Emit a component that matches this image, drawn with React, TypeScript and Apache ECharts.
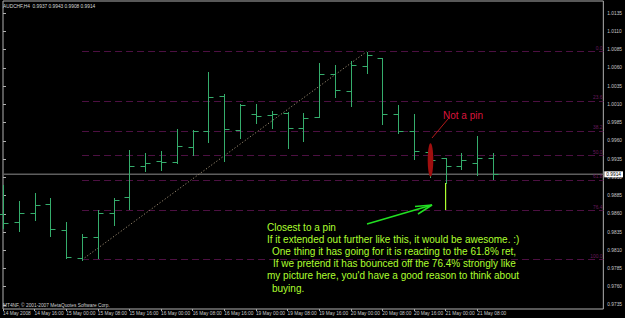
import React, { useEffect, useRef } from "react";
import * as echarts from "echarts";

const TITLE = "AUDCHF,H4  0.9937 0.9943 0.9908 0.9914";
const COPYRIGHT = "MT4NF, \u00a9 2001-2007 MetaQuotes Software Corp.";

// H4 OHLC bars
const OPEN = [0.9860, 0.9849, 0.9861, 0.9873, 0.9838, 0.9800, 0.9828, 0.9861, 0.9883, 0.9926, 0.9932, 0.9931, 0.9952, 0.9973, 1.0021, 0.9975, 0.9996, 0.9995, 0.9998, 0.9977, 0.9993, 1.0052, 1.0028, 1.0063, 1.0074, 0.9996, 0.9974, 0.9944, 0.9936, 0.9926, 0.9929, 0.9937];
const HIGH = [0.9899, 0.9877, 0.9888, 0.9882, 0.9849, 0.9832, 0.9865, 0.9881, 0.9947, 0.9943, 0.9946, 0.9976, 0.9975, 1.0054, 1.0024, 1.0011, 1.0011, 1.0001, 0.9999, 0.9998, 1.0067, 1.0064, 1.0069, 1.0082, 1.0074, 1.0009, 0.9996, 0.9945, 0.9937, 0.9943, 0.9967, 0.9943];
const LOW = [0.9840, 0.9836, 0.9851, 0.9830, 0.9800, 0.9797, 0.9800, 0.9845, 0.9867, 0.9919, 0.9920, 0.9930, 0.9940, 0.9958, 0.9932, 0.9964, 0.9985, 0.9978, 0.9950, 0.9960, 0.9992, 1.0020, 1.0007, 1.0053, 0.9983, 0.9971, 0.9935, 0.9911, 0.9902, 0.9921, 0.9913, 0.9908];
const CLOSE = [0.9847, 0.9861, 0.9872, 0.9839, 0.9801, 0.9828, 0.9861, 0.9879, 0.9925, 0.9930, 0.9931, 0.9953, 0.9974, 1.0020, 0.9976, 1.0009, 0.9994, 0.9997, 0.9977, 0.9991, 1.0051, 1.0029, 1.0064, 1.0077, 0.9996, 0.9973, 0.9946, 0.9933, 0.9926, 0.9933, 0.9936, 0.9914];

const TIME_LABELS = ["14 May 2008", "14 May 16:00", "15 May 00:00", "15 May 08:00", "15 May 16:00", "16 May 00:00", "16 May 08:00", "16 May 16:00", "19 May 00:00", "19 May 08:00", "19 May 16:00", "20 May 00:00", "20 May 08:00", "20 May 16:00", "21 May 00:00", "21 May 08:00"];
const TIME_LABEL_INDEX = [0, 2, 4, 6, 8, 10, 12, 14, 16, 18, 20, 22, 24, 26, 28, 30];
const PRICE_TICKS = [0.9735, 0.976, 0.9785, 0.981, 0.9835, 0.986, 0.9885, 0.991, 0.9935, 0.996, 0.9985, 1.001, 1.0035, 1.006, 1.0085, 1.011, 1.0135];

// Fibonacci retracement drawn from the swing low bar to the swing high bar
const FIB_LEVELS = [0, 23.6, 38.2, 50, 61.8, 76.4, 100];
const FIB_LABELS = ["0.0", "23.6", "38.2", "50.0", "61.8", "76.4", "100.0"];
const FIB_FROM = 5;
const FIB_TO = 23;

// extended tail drawn under the pin-candidate bar
const PIN_BAR = 28;
const PIN_EXT_LOW = 0.9865;

// layout
const X_MAX = 605 / 15.93;
const Y_MAX = 1.015144;
const Y_MIN = 0.972952;
const BAR_COLOR = "#35ad6c";
const AXIS_TEXT = "#c8c8c8";
const SMALL_FONT = "Liberation Sans";

export default function App() {
  const ref = useRef<HTMLDivElement>(null);

  useEffect(() => {
    if (!ref.current) return;
    const chart = echarts.init(ref.current, null, { renderer: "svg" });
    const fibHigh = HIGH[FIB_TO];
    const fibLow = LOW[FIB_FROM];
    const current = CLOSE[CLOSE.length - 1];
    const ohlc = OPEN.map((o, i) => [i, o, HIGH[i], LOW[i], CLOSE[i]]);

    const fibLines = FIB_LEVELS.map((r, k) => {
      const p = fibHigh - (r / 100) * (fibHigh - fibLow);
      return [
        {
          coord: [FIB_FROM, p],
          name: FIB_LABELS[k],
          lineStyle: { color: "#4d1042", width: 1, type: [7, 4] },
          label: {
            show: true,
            position: "insideEndTop",
            formatter: "{b}",
            color: "#6a1a5e",
            fontSize: 4.8,
            fontFamily: SMALL_FONT,
            distance: [1, 1],
          },
        },
        { coord: [X_MAX, p] },
      ];
    });

    chart.setOption({
      animation: false,
      backgroundColor: "#000",
      grid: {
        left: 1,
        top: 1,
        width: 605,
        height: 308,
        show: true,
        borderColor: "#b0b0b0",
        borderWidth: 1,
        backgroundColor: "#000",
      },
      xAxis: {
        type: "value",
        min: 0,
        max: X_MAX,
        axisLine: { show: false },
        splitLine: { show: false },
        axisTick: {
          show: true,
          customValues: TIME_LABEL_INDEX,
          length: 2,
          lineStyle: { color: "#b0b0b0" },
        },
        axisLabel: {
          customValues: TIME_LABEL_INDEX,
          formatter: (v: number) => TIME_LABELS[TIME_LABEL_INDEX.indexOf(Math.round(v))] ?? "",
          align: "left",
          margin: 2,
          fontSize: 4.8,
          fontFamily: SMALL_FONT,
          color: AXIS_TEXT,
        },
      },
      yAxis: {
        type: "value",
        position: "right",
        min: Y_MIN,
        max: Y_MAX,
        axisLine: { show: false },
        splitLine: { show: false },
        axisTick: {
          show: true,
          customValues: PRICE_TICKS,
          length: 3,
          lineStyle: { color: "#b0b0b0" },
        },
        axisLabel: {
          customValues: PRICE_TICKS,
          formatter: (v: number) => v.toFixed(4),
          margin: 4,
          fontSize: 4.8,
          fontFamily: SMALL_FONT,
          color: AXIS_TEXT,
        },
      },
      series: [
        {
          type: "line",
          data: [],
          silent: true,
          markLine: {
            silent: true,
            precision: 6,
            symbol: ["none", "none"],
            animation: false,
            data: [
              ...fibLines,
              [
                {
                  coord: [FIB_FROM, fibLow],
                  lineStyle: { color: "#9a8a72", width: 1, type: [1.2, 2] },
                  label: { show: false },
                },
                { coord: [FIB_TO, fibHigh] },
              ],
            ],
          },
        },
        {
          // current price line with its box on the price scale
          type: "line",
          data: [[0, current], [X_MAX, current]],
          silent: true,
          symbol: "none",
          z: 3,
          lineStyle: { color: "#5e5e5e", width: 1.5 },
          endLabel: {
            show: true,
            formatter: () => current.toFixed(4),
            backgroundColor: "#ffffff",
            color: "#000",
            fontSize: 4.8,
            fontFamily: SMALL_FONT,
            padding: [0.5, 2, 0.5, 2],
            distance: 1,
          },
        },
        {
          // extended tail of the pin-candidate bar
          type: "line",
          data: [[PIN_BAR, LOW[PIN_BAR]], [PIN_BAR, PIN_EXT_LOW]],
          silent: true,
          symbol: "none",
          z: 6,
          lineStyle: { color: "#adff2f", width: 1.2 },
        },
        {
          type: "custom",
          data: ohlc,
          encode: { x: 0, y: [1, 2, 3, 4] },
          z: 5,
          renderItem: (params: any, api: any) => {
            const i = api.value(0);
            const pO = api.coord([i, api.value(1)]);
            const pH = api.coord([i, api.value(2)]);
            const pL = api.coord([i, api.value(3)]);
            const pC = api.coord([i, api.value(4)]);
            const x = Math.round(pH[0]) + 0.5;
            const yo = Math.round(pO[1]) + 0.5;
            const yc = Math.round(pC[1]) + 0.5;
            const st = { stroke: BAR_COLOR, lineWidth: 1 };
            return {
              type: "group",
              children: [
                { type: "line", shape: { x1: x, y1: Math.round(pH[1]), x2: x, y2: Math.round(pL[1]) + 1 }, style: st },
                { type: "line", shape: { x1: x - 5, y1: yo, x2: x, y2: yo }, style: st },
                { type: "line", shape: { x1: x, y1: yc, x2: x + 5, y2: yc }, style: st },
              ],
            };
          },
        },
      ],
      graphic: [
        {
          type: "text",
          x: 3,
          y: 6,
          z: 100,
          style: { text: TITLE, fill: "#d8d8d8", font: `4.8px "${SMALL_FONT}"`, verticalAlign: "middle" },
        },
        {
          type: "text",
          x: 3,
          y: 305,
          z: 100,
          style: { text: COPYRIGHT, fill: "#d0d0d0", font: `4.8px "${SMALL_FONT}"`, verticalAlign: "middle" },
        },
        {
          type: "ellipse",
          z: 100,
          shape: { cx: 430.5, cy: 160, rx: 2.8, ry: 16.7 },
          style: { fill: "#a00f0f" },
        },
        {
          type: "line",
          z: 100,
          shape: { x1: 432, y1: 138, x2: 448, y2: 119 },
          style: { stroke: "#b41a1a", lineWidth: 1 },
        },
        {
          type: "text",
          x: 443,
          y: 115,
          z: 100,
          style: { text: "Not a pin", fill: "#dc143c", font: '10px "Liberation Sans"', verticalAlign: "middle" },
        },
        {
          type: "line",
          z: 100,
          shape: { x1: 367, y1: 224, x2: 432, y2: 205 },
          style: { stroke: "#22e022", lineWidth: 1.5 },
        },
        {
          type: "polyline",
          z: 100,
          shape: { points: [[415, 206.5], [432, 205], [418, 214]] },
          style: { stroke: "#22e022", lineWidth: 1.5, fill: null },
        },
        ...[
          ["Closest to a pin", 267, 227],
          ["If it extended out further like this, it would be awesome. :)", 267, 239],
          ["One thing it has going for it is reacting to the 61.8% ret,", 272, 251],
          ["If we pretend it has bounced off the 76.4% strongly like", 273, 263],
          ["my picture here, you'd have a good reason to think about", 267, 275],
          ["buying.", 272, 288],
        ].map(([t, x, y]) => ({
          type: "text",
          x: x as number,
          y: y as number,
          z: 100,
          style: { text: t as string, fill: "#adff2f", font: '10px "Liberation Sans"', verticalAlign: "middle" },
        })),
      ],
    });

    return () => chart.dispose();
  }, []);

  return (
    <div
      ref={ref}
      style={{ position: "fixed", left: 0, top: 0, width: 625, height: 318, background: "#000" }}
    />
  );
}
